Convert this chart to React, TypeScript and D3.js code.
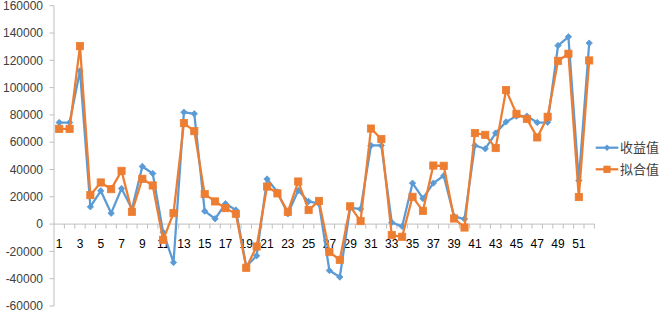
import React from "react";
import * as d3 from "d3";

const categories: number[] = Array.from({ length: 52 }, (_, i) => i + 1);

const shouyi: number[] = [
  74400, 74400, 112300, 12700, 24400, 8000, 26100, 11000, 42200, 37100,
  -5900, -28100, 82000, 80800, 9500, 3900, 14900, 10300, -31000, -23200,
  33000, 23500, 7500, 24600, 16600, 15000, -34000, -38800, 12000, 11000,
  57600, 57600, 1200, -1700, 30000, 18800, 30000, 35400, 5600, 3700,
  57600, 55200, 66700, 74900, 79100, 79100, 74400, 74600, 130800, 137200,
  31900, 132600,
];

const nihe: number[] = [
  69800, 69800, 130400, 21200, 30500, 25600, 39000, 9000, 33200, 28300,
  -11500, 8000, 74000, 68100, 22000, 16600, 11700, 7500, -32000, -16400,
  27500, 22500, 9000, 31200, 10300, 17000, -20500, -26200, 13000, 2200,
  70000, 62300, -8100, -9300, 20000, 9700, 42900, 42700, 4100, -2500,
  66700, 65400, 55700, 98200, 80800, 77100, 63500, 78600, 119600, 124800,
  19800, 119900,
];

const yTicks: number[] = [-60000, -40000, -20000, 0, 20000, 40000, 60000, 80000, 100000, 120000, 140000, 160000];
const seriesNames: string[] = ["收益值", "拟合值"];

const BLUE = "#5B9BD5";
const ORANGE = "#ED7D31";
const AXIS = "#BFBFBF";
const TEXT = "#404040";

export default function App() {
  const W = 661;
  const H = 316;
  const X0 = 54;
  const X1 = 594.4;
  const x = d3.scaleBand<number>().domain(categories).range([X0, X1]).padding(0);
  const y = d3.scaleLinear().domain([-60000, 160000]).range([306, 5.7]);
  const bw = x.bandwidth();
  const cx = (c: number) => (x(c) as number) + bw / 2;

  const line = d3
    .line<number>()
    .x((_, i) => cx(categories[i]))
    .y((d) => y(d));

  const diamond = (px: number, py: number, r: number) =>
    `M${px},${py - r}L${px + r},${py}L${px},${py + r}L${px - r},${py}Z`;

  const zeroY = y(0);
  const font = "'Liberation Sans', Arial, sans-serif";

  return (
    <svg
      width={W}
      height={H}
      style={{ position: "absolute", left: 0, top: 0, background: "#fff" }}
    >
      {/* Y axis */}
      <line x1={X0} x2={X0} y1={y(160000)} y2={y(-60000)} stroke={AXIS} strokeWidth={1} />
      {yTicks.map((t) => (
        <g key={t}>
          <line x1={X0 - 4.5} x2={X0} y1={y(t)} y2={y(t)} stroke={AXIS} strokeWidth={1} />
          <text
            x={43}
            y={y(t)}
            dy="0.35em"
            textAnchor="end"
            fontFamily={font}
            fontSize={12}
            fill={TEXT}
          >
            {t}
          </text>
        </g>
      ))}
      {/* X axis at zero */}
      <line x1={X0} x2={X1} y1={zeroY} y2={zeroY} stroke={AXIS} strokeWidth={1} />
      {categories.map((c) => (
        <line
          key={"t" + c}
          x1={(x(c) as number) + bw}
          x2={(x(c) as number) + bw}
          y1={zeroY}
          y2={zeroY + 4.5}
          stroke={AXIS}
          strokeWidth={1}
        />
      ))}
      {categories
        .filter((c) => c % 2 === 1)
        .map((c) => (
          <text
            key={"l" + c}
            x={cx(c)}
            y={247.5}
            textAnchor="middle"
            fontFamily={font}
            fontSize={12}
            fill="#000"
          >
            {c}
          </text>
        ))}

      {/* Series lines */}
      <path d={line(shouyi) || ""} fill="none" stroke={BLUE} strokeWidth={2.25} strokeLinejoin="round" />
      {shouyi.map((v, i) => (
        <path key={"b" + i} d={diamond(cx(categories[i]), y(v), 3.2)} fill={BLUE} stroke={BLUE} strokeWidth={0.8} />
      ))}
      <path d={line(nihe) || ""} fill="none" stroke={ORANGE} strokeWidth={2.25} strokeLinejoin="round" />
      {nihe.map((v, i) => (
        <rect
          key={"o" + i}
          x={cx(categories[i]) - 3.6}
          y={y(v) - 3.6}
          width={7.2}
          height={7.2}
          fill={ORANGE}
          stroke={ORANGE}
          strokeWidth={0.8}
        />
      ))}

      {/* Legend */}
      <g>
        <line x1={595.7} x2={618.3} y1={147.7} y2={147.7} stroke={BLUE} strokeWidth={2.25} />
        <path d={diamond(607, 147.7, 3.2)} fill={BLUE} />
        <text x={620} y={147.7} dy="0.36em" fontFamily="'Noto Sans CJK SC', sans-serif" fontSize={13} fill={TEXT}>
          {seriesNames[0]}
        </text>
        <line x1={595.7} x2={618.3} y1={169.3} y2={169.3} stroke={ORANGE} strokeWidth={2.25} />
        <rect x={607 - 3.6} y={169.3 - 3.6} width={7.2} height={7.2} fill={ORANGE} />
        <text x={620} y={169.3} dy="0.36em" fontFamily="'Noto Sans CJK SC', sans-serif" fontSize={13} fill={TEXT}>
          {seriesNames[1]}
        </text>
      </g>
    </svg>
  );
}
